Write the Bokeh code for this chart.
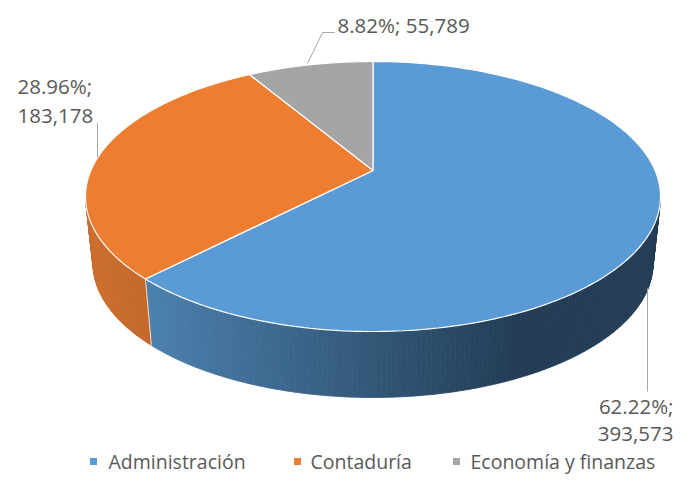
import numpy as np
from bokeh.plotting import figure
from bokeh.models import Range1d
from bokeh.core.properties import value
from bokeh.embed import file_html
from bokeh.resources import INLINE

# ---- data ----
categories = ["Administración", "Contaduría", "Economía y finanzas"]
values = [393573, 183178, 55789]
top_colors = ["#5B9BD5", "#ED7D31", "#A5A5A5"]
# side shading (start colour, end colour) for each slice
side_colors = [("#4b80ae", "#233d55"), ("#cc6f2e", "#c3682a"), ("#8a8a8a", "#6a6a6a")]

# ---- layout ----
W, H = 675, 479
CX, CY_TOP, A_TOP, B_TOP = 372.5, 196.0, 287.5, 135.0
CY_BOT, A_BOT, B_BOT = 263.0, 280.0, 134.0
APEX = (372.5, 170.0)
K = np.radians(12)          # perspective warp of angles
FONT = value("Open Sans")
TXT = "#595959"
LEAD = "#a6a6a6"

p = figure(width=W, height=H, output_backend="svg", toolbar_location=None,
           x_range=Range1d(0, W), y_range=Range1d(H, 0),
           x_axis_type=None, y_axis_type=None, min_border=0)
p.grid.visible = False
p.outline_line_color = None
p.background_fill_color = "white"
p.border_fill_color = "white"


def warp(theta):
    return theta - K * np.sin(theta)


def ell(ph, cy, a, b):
    return CX + a * np.sin(ph), cy - b * np.cos(ph)


def hex2rgb(h):
    h = h.lstrip("#")
    return np.array([int(h[i:i + 2], 16) for i in (0, 2, 4)], dtype=float)


def mix(c0, c1, t):
    c = hex2rgb(c0) * (1 - t) + hex2rgb(c1) * t
    return "#%02x%02x%02x" % tuple(int(round(v)) for v in c)


total = float(sum(values))
fracs = [v / total for v in values]
starts = np.concatenate([[0.0], np.cumsum(fracs)[:-1]]) * 2 * np.pi
ends = np.cumsum(fracs) * 2 * np.pi

# ---- sides (front half only) ----
sx, sy, sc = [], [], []
cut_lines = []
for i in range(len(values)):
    ph0, ph1 = warp(starts[i]), warp(ends[i])
    lo, hi = max(ph0, np.pi / 2), min(ph1, 3 * np.pi / 2)
    if lo >= hi:
        continue
    n = max(2, int(np.degrees(hi - lo)))
    grid = np.linspace(lo, hi, n + 1)
    xl = ell(hi, CY_TOP, A_TOP, B_TOP)[0]
    xr = ell(lo, CY_TOP, A_TOP, B_TOP)[0]
    span = (xr - xl) * (0.72 if i == 0 else 1.0)
    for a0, a1 in zip(grid[:-1], grid[1:]):
        tx0, ty0 = ell(a0, CY_TOP, A_TOP, B_TOP)
        tx1, ty1 = ell(a1, CY_TOP, A_TOP, B_TOP)
        bx0, by0 = ell(a0, CY_BOT, A_BOT, B_BOT)
        bx1, by1 = ell(a1, CY_BOT, A_BOT, B_BOT)
        xm = (tx0 + tx1) / 2
        t = float(np.clip((xm - xl) / span, 0, 1))
        sx.append([tx0, tx1, bx1, bx0])
        sy.append([ty0, ty1, by1, by0])
        sc.append(mix(side_colors[i][0], side_colors[i][1], t))
    if ph1 < 3 * np.pi / 2 and ph1 > np.pi / 2:
        cut_lines.append((ell(ph1, CY_TOP, A_TOP, B_TOP), ell(ph1, CY_BOT, A_BOT, B_BOT)))

p.patches(sx, sy, fill_color=sc, line_color=sc, line_width=0.8)
for (x0, y0), (x1, y1) in cut_lines:
    p.line([x0, x1], [y0, y1], line_color="white", line_alpha=0.8, line_width=1)

# ---- top slices ----
txs, tys = [], []
for i in range(len(values)):
    ph = np.linspace(warp(starts[i]), warp(ends[i]), 200)
    ex, ey = ell(ph, CY_TOP, A_TOP, B_TOP)
    txs.append([APEX[0]] + list(ex))
    tys.append([APEX[1]] + list(ey))
p.patches(txs, tys, fill_color=top_colors, line_color="white", line_width=1.2)

# ---- data labels with leader lines ----
pct = [f"{f * 100:.2f}%;" for f in fracs]
num = [f"{v:,}" for v in values]
FS = "20.5px"

# Administración (bottom right)
p.line([647, 647], [288, 391], line_color=LEAD, line_width=1)
p.text([673], [405], text=[pct[0]], text_font=FONT, text_font_size=FS,
       text_color=TXT, text_baseline="middle", text_align="right")
p.text([673], [433], text=[num[0]], text_font=FONT, text_font_size=FS,
       text_color=TXT, text_baseline="middle", text_align="right")

# Contaduría (top left)
p.line([97, 97], [157, 122], line_color=LEAD, line_width=1)
p.text([17], [85], text=[pct[1]], text_font=FONT, text_font_size=FS,
       text_color=TXT, text_baseline="middle", text_align="left")
p.text([17], [115], text=[num[1]], text_font=FONT, text_font_size=FS,
       text_color=TXT, text_baseline="middle", text_align="left")

# Economía y finanzas (top)
p.line([307, 322, 334], [63, 32, 32], line_color=LEAD, line_width=1)
p.text([337], [24], text=[pct[2] + " " + num[2]], text_font=FONT,
       text_font_size=FS, text_color=TXT, text_baseline="middle",
       text_align="left")

# ---- legend ----
leg_mx = [93, 297, 456]
leg_tx = [108, 310, 470]
leg_y = 461
p.scatter(leg_mx, [leg_y] * 3, marker="square", size=7, fill_color=top_colors,
          line_color=None)
p.text(leg_tx, [leg_y] * 3, text=categories, text_font=FONT,
       text_font_size="19.5px", text_color=TXT, text_baseline="middle",
       text_align="left")

open("out.html", "w").write(file_html(p, INLINE))
